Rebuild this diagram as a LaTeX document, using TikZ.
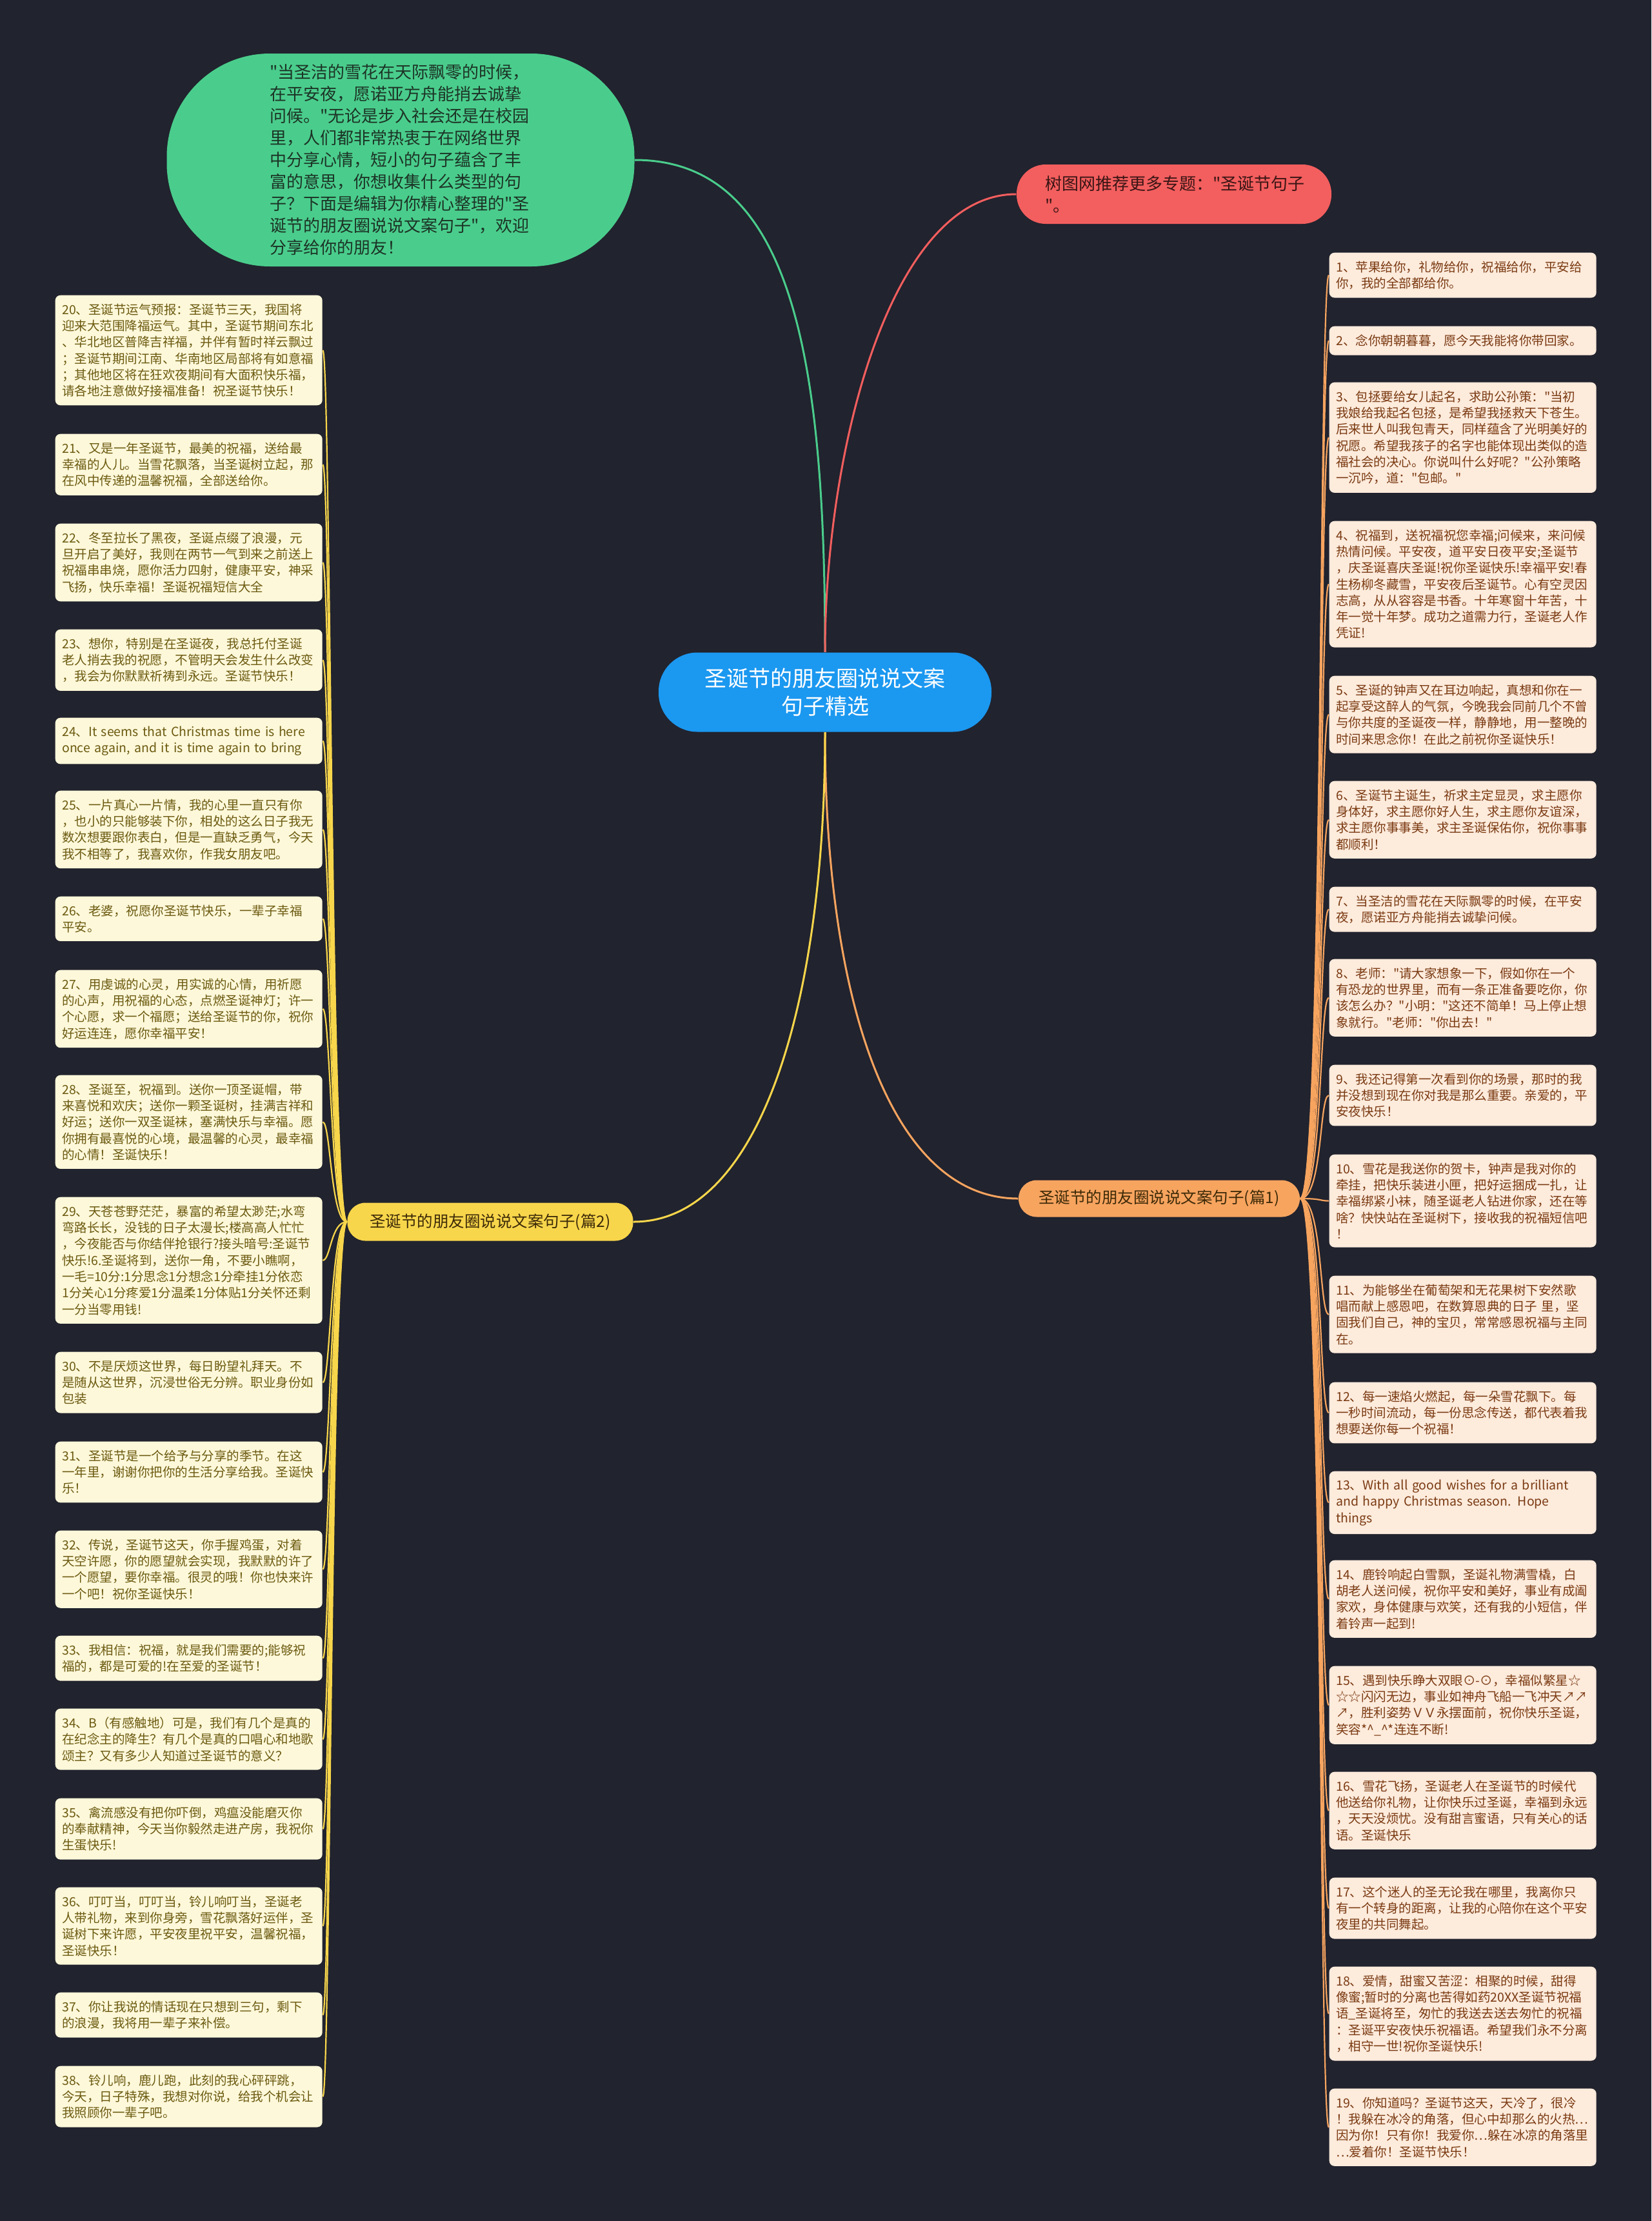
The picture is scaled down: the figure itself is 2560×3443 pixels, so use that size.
\documentclass[tikz,border=0pt]{standalone}
\usepackage{fontspec}
\newfontfamily\notocjk{Noto Sans CJK SC}
\usepackage{xcolor}
\usetikzlibrary{calc}

\definecolor{bgnavy}{HTML}{21232E}
\definecolor{topicblue}{HTML}{1B98F0}
\definecolor{introgreen}{HTML}{4ACD8C}
\definecolor{introtext}{HTML}{1C3326}
\definecolor{linkred}{HTML}{F35E5E}
\definecolor{linktext}{HTML}{3A1515}
\definecolor{partorange}{HTML}{F7A45F}
\definecolor{partyellow}{HTML}{F8D64B}
\definecolor{parttext}{HTML}{3D2A08}
\definecolor{peachleaf}{HTML}{FDEBDC}
\definecolor{peachtext}{HTML}{7A3A12}
\definecolor{creamleaf}{HTML}{FEF8DA}
\definecolor{creamtext}{HTML}{6B5A10}

\begin{document}
\begin{tikzpicture}[x=0.1mm, y=-0.1mm,
  rleaf/.style={anchor=north west, fill=peachleaf, text=peachtext, rounded corners=0.8mm,
    text width=39.3mm, inner xsep=1.05mm, inner ysep=1.3mm, align=left,
    font=\notocjk\fontsize{5.55}{7.2}\selectfont},
  lleaf/.style={rleaf, fill=creamleaf, text=creamtext},
  part/.style={rounded corners=2.8mm, minimum height=5.7mm, inner sep=0pt,
    text=parttext, font=\notocjk\fontsize{6.97}{8.5}\selectfont},
  rline/.style={draw=partorange, line width=0.22mm},
  lline/.style={draw=partyellow, line width=0.22mm}]

  % background
  \fill[bgnavy] (0,0) rectangle (2560,3443);
  \useasboundingbox (0,0) rectangle (2560,3443);

  % main topic
  \node[fill=topicblue, text=white, rounded corners=6mm, minimum width=51.6mm, minimum height=12.3mm,
    inner sep=0pt, align=center, font=\notocjk\fontsize{9.67}{12.5}\selectfont] (topic) at (1279,1073)
    {圣诞节的朋友圈说说文案\\句子精选};

  % intro and link
  \node[fill=introgreen, text=introtext, rounded corners=16mm, minimum width=72.5mm, minimum height=33mm,
    text width=40.5mm, inner sep=0pt, align=left, font=\notocjk\fontsize{7.4}{9.67}\selectfont] (intro) at (621,248)
    {"当圣洁的雪花在天际飘零的时候，\\在平安夜，愿诺亚方舟能捎去诚挚\\问候。"无论是步入社会还是在校园\\里，人们都非常热衷于在网络世界\\中分享心情，短小的句子蕴含了丰\\富的意思，你想收集什么类型的句\\子？下面是编辑为你精心整理的"圣\\诞节的朋友圈说说文案句子"，欢迎\\分享给你的朋友！};
  \node[fill=linkred, text=linktext, rounded corners=4.5mm, minimum width=48.8mm, minimum height=9.2mm,
    text width=40mm, inner sep=0pt, align=left, font=\notocjk\fontsize{7.4}{9.67}\selectfont] (link) at (1820,301)
    {树图网推荐更多专题："圣诞节句子\\"。};

  % the two parts
  \node[part, fill=partorange, minimum width=43.6mm] (part1) at (1797,1858) {圣诞节的朋友圈说说文案句子(篇1)};
  \node[part, fill=partyellow, minimum width=44.3mm, minimum height=5.9mm] (part2) at (760,1894) {圣诞节的朋友圈说说文案句子(篇2)};

  % main connectors
  \draw[introgreen, line width=0.3mm] (topic.north) .. controls (1279,560) and (1230,248) .. (intro.east);
  \draw[linkred, line width=0.3mm] (topic.north) .. controls (1279,700) and (1380,301) .. (link.west);
  \draw[partorange, line width=0.3mm] (topic.south) .. controls (1279,1550) and (1380,1858) .. (part1.west);
  \draw[partyellow, line width=0.3mm] (topic.south) .. controls (1279,1550) and (1180,1894) .. (part2.east);

  % part 1 leaves
  \node[rleaf] (r1) at (2060,391) {1、苹果给你，礼物给你，祝福给你，平安给\\你，我的全部都给你。};
  \node[rleaf] (r2) at (2060,505) {2、念你朝朝暮暮，愿今天我能将你带回家。};
  \node[rleaf] (r3) at (2060,592) {3、包拯要给女儿起名，求助公孙策："当初\\我娘给我起名包拯，是希望我拯救天下苍生。\\后来世人叫我包青天，同样蕴含了光明美好的\\祝愿。希望我孩子的名字也能体现出类似的造\\福社会的决心。你说叫什么好呢？"公孙策略\\一沉吟，道："包邮。"};
  \node[rleaf] (r4) at (2060,807) {4、祝福到，送祝福祝您幸福;问候来，来问候\\热情问候。平安夜，道平安日夜平安;圣诞节\\，庆圣诞喜庆圣诞!祝你圣诞快乐!幸福平安!春\\生杨柳冬藏雪，平安夜后圣诞节。心有空灵因\\志高，从从容容是书香。十年寒窗十年苦，十\\年一觉十年梦。成功之道需力行，圣诞老人作\\凭证!};
  \node[rleaf] (r5) at (2060,1047) {5、圣诞的钟声又在耳边响起，真想和你在一\\起享受这醉人的气氛，今晚我会同前几个不曾\\与你共度的圣诞夜一样，静静地，用一整晚的\\时间来思念你！在此之前祝你圣诞快乐！};
  \node[rleaf] (r6) at (2060,1210) {6、圣诞节主诞生，祈求主定显灵，求主愿你\\身体好，求主愿你好人生，求主愿你友谊深，\\求主愿你事事美，求主圣诞保佑你，祝你事事\\都顺利！};
  \node[rleaf] (r7) at (2060,1374) {7、当圣洁的雪花在天际飘零的时候，在平安\\夜，愿诺亚方舟能捎去诚挚问候。};
  \node[rleaf] (r8) at (2060,1486) {8、老师："请大家想象一下，假如你在一个\\有恐龙的世界里，而有一条正准备要吃你，你\\该怎么办？"小明："这还不简单！马上停止想\\象就行。"老师："你出去！"};
  \node[rleaf] (r9) at (2060,1650) {9、我还记得第一次看到你的场景，那时的我\\并没想到现在你对我是那么重要。亲爱的，平\\安夜快乐！};
  \node[rleaf] (r10) at (2060,1789) {10、雪花是我送你的贺卡，钟声是我对你的\\牵挂，把快乐装进小匣，把好运捆成一扎，让\\幸福绑紧小袜，随圣诞老人钻进你家，还在等\\啥？快快站在圣诞树下，接收我的祝福短信吧\\！};
  \node[rleaf] (r11) at (2060,1977) {11、为能够坐在葡萄架和无花果树下安然歌\\唱而献上感恩吧，在数算恩典的日子 里，坚\\固我们自己，神的宝贝，常常感恩祝福与主同\\在。};
  \node[rleaf] (r12) at (2060,2142) {12、每一速焰火燃起，每一朵雪花飘下。每\\一秒时间流动，每一份思念传送，都代表着我\\想要送你每一个祝福！};
  \node[rleaf] (r13) at (2060,2280) {\mbox{13、With all good wishes for a brilliant}\\\mbox{and happy Christmas season. Hope}\\things};
  \node[rleaf] (r14) at (2060,2418) {14、鹿铃响起白雪飘，圣诞礼物满雪橇，白\\胡老人送问候，祝你平安和美好，事业有成阖\\家欢，身体健康与欢笑，还有我的小短信，伴\\着铃声一起到!};
  \node[rleaf] (r15) at (2060,2582) {15、遇到快乐睁大双眼⊙-⊙，幸福似繁星☆\\☆☆闪闪无边，事业如神舟飞船一飞冲天↗↗\\↗，胜利姿势ＶＶ永摆面前，祝你快乐圣诞，\\笑容*\textasciicircum\_\textasciicircum*连连不断!};
  \node[rleaf] (r16) at (2060,2746) {16、雪花飞扬，圣诞老人在圣诞节的时候代\\他送给你礼物，让你快乐过圣诞，幸福到永远\\，天天没烦忧。没有甜言蜜语，只有关心的话\\语。圣诞快乐};
  \node[rleaf] (r17) at (2060,2910) {17、这个迷人的圣无论我在哪里，我离你只\\有一个转身的距离，让我的心陪你在这个平安\\夜里的共同舞起。};
  \node[rleaf] (r18) at (2060,3048) {18、爱情，甜蜜又苦涩：相聚的时候，甜得\\像蜜;暂时的分离也苦得如药20XX圣诞节祝福\\语\_圣诞将至，匆忙的我送去送去匆忙的祝福\\：圣诞平安夜快乐祝福语。希望我们永不分离\\，相守一世!祝你圣诞快乐!};
  \node[rleaf] (r19) at (2060,3237) {19、你知道吗？圣诞节这天，天冷了，很冷\\！我躲在冰冷的角落，但心中却那么的火热…\\因为你！只有你！我爱你…躲在冰凉的角落里\\…爱着你！圣诞节快乐！};

  % part 2 leaves
  \node[lleaf] (l20) at (85,457) {20、圣诞节运气预报：圣诞节三天，我国将\\迎来大范围降福运气。其中，圣诞节期间东北\\、华北地区普降吉祥福，并伴有暂时祥云飘过\\；圣诞节期间江南、华南地区局部将有如意福\\；其他地区将在狂欢夜期间有大面积快乐福，\\请各地注意做好接福准备！祝圣诞节快乐！};
  \node[lleaf] (l21) at (85,672) {21、又是一年圣诞节，最美的祝福，送给最\\幸福的人儿。当雪花飘落，当圣诞树立起，那\\在风中传递的温馨祝福，全部送给你。};
  \node[lleaf] (l22) at (85,811) {22、冬至拉长了黑夜，圣诞点缀了浪漫，元\\旦开启了美好，我则在两节一气到来之前送上\\祝福串串烧，愿你活力四射，健康平安，神采\\飞扬，快乐幸福！圣诞祝福短信大全};
  \node[lleaf] (l23) at (85,975) {23、想你，特别是在圣诞夜，我总托付圣诞\\老人捎去我的祝愿，不管明天会发生什么改变\\，我会为你默默祈祷到永远。圣诞节快乐！};
  \node[lleaf] (l24) at (85,1112) {\mbox{24、It seems that Christmas time is here}\\\mbox{once again, and it is time again to bring}};
  \node[lleaf] (l25) at (85,1225) {25、一片真心一片情，我的心里一直只有你\\，也小的只能够装下你，相处的这么日子我无\\数次想要跟你表白，但是一直缺乏勇气，今天\\我不相等了，我喜欢你，作我女朋友吧。};
  \node[lleaf] (l26) at (85,1389) {26、老婆，祝愿你圣诞节快乐，一辈子幸福\\平安。};
  \node[lleaf] (l27) at (85,1503) {27、用虔诚的心灵，用实诚的心情，用祈愿\\的心声，用祝福的心态，点燃圣诞神灯；许一\\个心愿，求一个福愿；送给圣诞节的你，祝你\\好运连连，愿你幸福平安！};
  \node[lleaf] (l28) at (85,1666) {28、圣诞至，祝福到。送你一顶圣诞帽，带\\来喜悦和欢庆；送你一颗圣诞树，挂满吉祥和\\好运；送你一双圣诞袜，塞满快乐与幸福。愿\\你拥有最喜悦的心境，最温馨的心灵，最幸福\\的心情！圣诞快乐！};
  \node[lleaf] (l29) at (85,1855) {29、天苍苍野茫茫，暴富的希望太渺茫;水弯\\弯路长长，没钱的日子太漫长;楼高高人忙忙\\，今夜能否与你结伴抢银行?接头暗号:圣诞节\\快乐!6.圣诞将到，送你一角，不要小瞧啊，\\一毛=10分:1分思念1分想念1分牵挂1分依恋\\1分关心1分疼爱1分温柔1分体贴1分关怀还剩\\一分当零用钱!};
  \node[lleaf] (l30) at (85,2095) {30、不是厌烦这世界，每日盼望礼拜天。不\\是随从这世界，沉浸世俗无分辨。职业身份如\\包装};
  \node[lleaf] (l31) at (85,2234) {31、圣诞节是一个给予与分享的季节。在这\\一年里，谢谢你把你的生活分享给我。圣诞快\\乐！};
  \node[lleaf] (l32) at (85,2372) {32、传说，圣诞节这天，你手握鸡蛋，对着\\天空许愿，你的愿望就会实现，我默默的许了\\一个愿望，要你幸福。很灵的哦！你也快来许\\一个吧！祝你圣诞快乐！};
  \node[lleaf] (l33) at (85,2535) {33、我相信：祝福，就是我们需要的;能够祝\\福的，都是可爱的!在至爱的圣诞节！};
  \node[lleaf] (l34) at (85,2648) {34、B（有感触地）可是，我们有几个是真的\\在纪念主的降生？有几个是真的口唱心和地歌\\颂主？又有多少人知道过圣诞节的意义？};
  \node[lleaf] (l35) at (85,2787) {35、禽流感没有把你吓倒，鸡瘟没能磨灭你\\的奉献精神，今天当你毅然走进产房，我祝你\\生蛋快乐!};
  \node[lleaf] (l36) at (85,2925) {36、叮叮当，叮叮当，铃儿响叮当，圣诞老\\人带礼物，来到你身旁，雪花飘落好运伴，圣\\诞树下来许愿，平安夜里祝平安，温馨祝福，\\圣诞快乐！};
  \node[lleaf] (l37) at (85,3088) {37、你让我说的情话现在只想到三句，剩下\\的浪漫，我将用一辈子来补偿。};
  \node[lleaf] (l38) at (85,3202) {38、铃儿响，鹿儿跑，此刻的我心砰砰跳，\\今天，日子特殊，我想对你说，给我个机会让\\我照顾你一辈子吧。};

  % leaf connectors
  \foreach \n in {1,...,19} {
    \draw[rline] (part1.east) .. controls ($(part1.east)+(35,0)$) and ($(r\n.west)+(-15,0)$) .. (r\n.west);
  }
  \foreach \n in {20,...,38} {
    \draw[lline] (part2.west) .. controls ($(part2.west)+(-25,0)$) and ($(l\n.east)+(12,0)$) .. (l\n.east);
  }
\end{tikzpicture}
\end{document}
